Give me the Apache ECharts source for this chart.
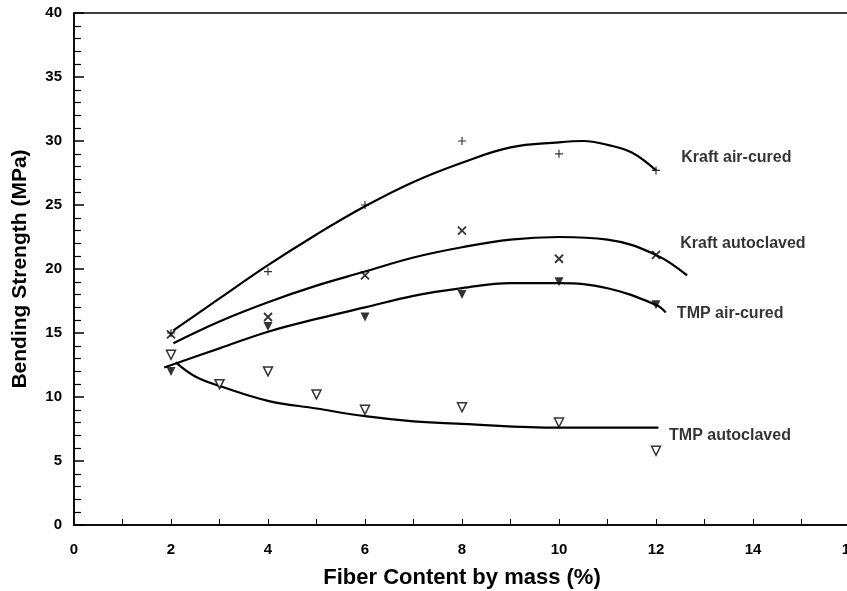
<!DOCTYPE html>
<html>
<head>
<meta charset="utf-8">
<script src="https://cdn.jsdelivr.net/npm/echarts@6/dist/echarts.min.js"></script>
<style>
  html, body { margin: 0; padding: 0; background: #fff; }
  #chart { width: 847px; height: 591px; }
</style>
</head>
<body>
<div id="chart"></div>
<script>
// measured points (fiber %, MPa)
const fiberX = [2, 4, 6, 8, 10, 12]
const kraftAirCured = [15.0, 19.8, 25.0, 30.0, 29.0, 27.7]
const kraftAutoclaved = [14.9, 16.25, 19.5, 23.0, 20.8, 21.1]
const tmpAirCured = [12.0, 15.5, 16.25, 18.0, 19.0, 17.2]
const tmpAutoX = [2, 3, 4, 5, 6, 8, 10, 12]
const tmpAutoclaved = [13.3, 11.0, 12.0, 10.2, 9.0, 9.2, 8.0, 5.8]

// fitted curves
const kraftAirFitX = [2.05, 3, 4, 5, 6, 7, 8, 9, 10, 10.5, 11, 11.5, 12]
const kraftAirFitY = [15.2, 17.7, 20.3, 22.7, 24.9, 26.8, 28.3, 29.5, 29.9, 30.0, 29.7, 29.1, 27.7]
const kraftAutoFitX = [2.05, 3, 4, 5, 6, 7, 8, 9, 10, 11, 12, 12.64]
const kraftAutoFitY = [14.2, 15.9, 17.4, 18.7, 19.8, 20.9, 21.7, 22.3, 22.5, 22.3, 21.1, 19.5]
const tmpAirFitX = [1.86, 3, 4, 5, 6, 7, 8, 9, 10, 11, 12, 12.2]
const tmpAirFitY = [12.3, 13.8, 15.1, 16.1, 17.0, 17.9, 18.5, 18.9, 18.9, 18.5, 17.2, 16.6]
const tmpAutoFitX = [2.1, 2.5, 3.05, 4, 5, 6, 7, 8, 10, 12.05]
const tmpAutoFitY = [12.7, 11.6, 10.8, 9.7, 9.1, 8.5, 8.1, 7.9, 7.6, 7.6]

// curve labels
const curveNames = ['Kraft air-cured', 'Kraft autoclaved', 'TMP air-cured', 'TMP autoclaved']
const labelX = [12.52, 12.5, 12.43, 12.27]
const labelY = [28.7, 22.0, 16.5, 7.0]

const xTicks = [0, 2, 4, 6, 8, 10, 12, 14, 16]
const yTicks = [0, 5, 10, 15, 20, 25, 30, 35, 40]

const font = "'Liberation Sans', Arial, sans-serif"

const zip = (xs, ys) => xs.map((x, i) => [x, ys[i]])

const plusPath = 'path://M5,0L5,10M0,5L10,5'
const crossPath = 'path://M0,0L10,10M10,0L0,10'

const chart = echarts.init(document.getElementById('chart'))

const curve = (xs, ys) => ({
  type: 'line',
  data: zip(xs, ys),
  smooth: 0.4,
  showSymbol: false,
  lineStyle: { color: '#000', width: 2.2 },
  z: 2
})

const option = {
  animation: false,
  backgroundColor: '#fff',
  grid: {
    left: 74, top: 13, right: -3, bottom: 66,
    outerBoundsMode: 'none',
    containLabel: false,
    show: true, borderColor: '#000', borderWidth: 1.5
  },
  xAxis: {
    type: 'value',
    min: 0, max: 16, interval: 2,
    name: 'Fiber Content by mass (%)',
    nameLocation: 'middle',
    nameGap: 42,
    nameTextStyle: { fontFamily: font, fontWeight: 'bold', fontSize: 22, color: '#000' },
    axisLine: { lineStyle: { color: '#000', width: 1.5 } },
    axisTick: { inside: true, length: 6, lineStyle: { color: '#000' } },
    minorTick: { show: true, splitNumber: 2, length: 6, lineStyle: { color: '#000' } },
    splitLine: { show: false },
    axisLabel: {
      margin: 17, fontFamily: font, fontWeight: 'bold', fontSize: 15, color: '#000',
      formatter: v => xTicks.includes(v) ? String(v) : ''
    }
  },
  yAxis: {
    type: 'value',
    min: 0, max: 40, interval: 5,
    name: 'Bending Strength (MPa)',
    nameLocation: 'middle',
    nameGap: 43,
    nameTextStyle: { fontFamily: font, fontWeight: 'bold', fontSize: 21, color: '#000' },
    axisLine: { lineStyle: { color: '#000', width: 1.5 } },
    axisTick: { inside: true, length: 10, lineStyle: { color: '#000', width: 1.5 } },
    minorTick: { show: true, splitNumber: 5, length: 7, lineStyle: { color: '#000', width: 1.2 } },
    splitLine: { show: false },
    axisLabel: {
      margin: 12, fontFamily: font, fontWeight: 'bold', fontSize: 15, color: '#000',
      formatter: v => yTicks.includes(v) ? String(v) : ''
    }
  },
  series: [
    curve(kraftAirFitX, kraftAirFitY),
    curve(kraftAutoFitX, kraftAutoFitY),
    curve(tmpAirFitX, tmpAirFitY),
    curve(tmpAutoFitX, tmpAutoFitY),
    {
      type: 'scatter',
      data: zip(fiberX, kraftAirCured),
      symbol: plusPath,
      symbolSize: 8,
      itemStyle: { color: 'none', borderColor: '#000', borderWidth: 1.2 },
      z: 3
    },
    {
      type: 'scatter',
      data: zip(fiberX, kraftAutoclaved),
      symbol: crossPath,
      symbolSize: 8,
      itemStyle: { color: 'none', borderColor: '#000', borderWidth: 1.8 },
      z: 3
    },
    {
      type: 'scatter',
      data: zip(fiberX, tmpAirCured),
      symbol: 'triangle',
      symbolRotate: 180,
      symbolSize: 9,
      itemStyle: { color: '#000' },
      z: 3
    },
    {
      type: 'scatter',
      data: zip(tmpAutoX, tmpAutoclaved),
      symbol: 'triangle',
      symbolRotate: 180,
      symbolSize: 9,
      itemStyle: { color: '#fff', borderColor: '#000', borderWidth: 1.5 },
      z: 3
    },
    {
      type: 'scatter',
      data: curveNames.map((n, i) => ({ value: [labelX[i], labelY[i]], name: n })),
      symbolSize: 0,
      silent: true,
      label: {
        show: true,
        position: 'right',
        distance: 0,
        formatter: p => p.name,
        fontFamily: font, fontWeight: 'bold', fontSize: 16, color: '#000'
      },
      z: 4
    }
  ]
}

chart.setOption(option)
</script>
</body>
</html>
